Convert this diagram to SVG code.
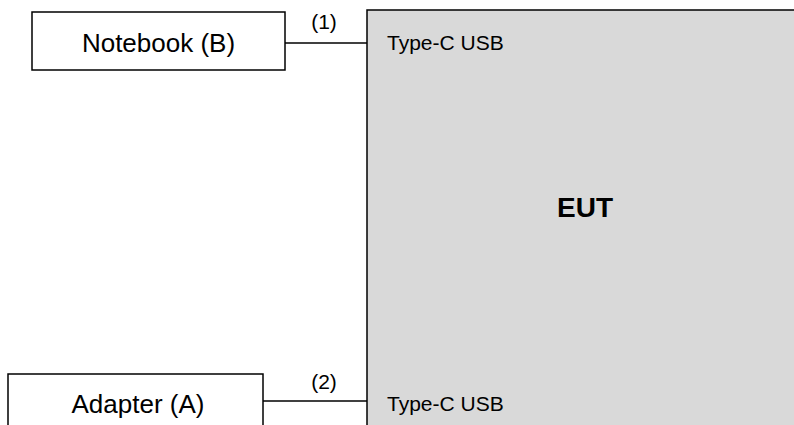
<svg xmlns="http://www.w3.org/2000/svg" width="794" height="425" viewBox="0 0 794 425">
  <style>
    .box { fill: #ffffff; stroke: #000000; stroke-width: 1.5; }
    .eut { fill: #d9d9d9; stroke: #000000; stroke-width: 1.5; }
    .wire { stroke: #000000; stroke-width: 1.5; fill: none; }
    .big { font-family: "Liberation Sans", Arial, sans-serif; font-size: 26px; fill: #000000; text-anchor: middle; }
    .small { font-family: "Liberation Sans", Arial, sans-serif; font-size: 21px; fill: #000000; }
    .title { font-family: "Liberation Sans", Arial, sans-serif; font-size: 28px; font-weight: bold; fill: #000000; text-anchor: middle; }
  </style>
  <rect width="794" height="425" fill="#ffffff"/>

  <g id="eut">
    <rect class="eut" x="367" y="10" width="440" height="430"/>
    <text class="title" x="585" y="217">EUT</text>
    <text class="small" x="387" y="50">Type-C USB</text>
    <text class="small" x="387" y="411">Type-C USB</text>
  </g>

  <g id="notebook">
    <rect class="box" x="32" y="12" width="253" height="58"/>
    <text class="big" x="158.5" y="52">Notebook (B)</text>
  </g>

  <g id="adapter">
    <rect class="box" x="8" y="374" width="255" height="70"/>
    <text class="big" x="138" y="413">Adapter (A)</text>
  </g>

  <g id="connectors">
    <line class="wire" x1="285" y1="43" x2="367" y2="43"/>
    <line class="wire" x1="263" y1="401" x2="367" y2="401"/>
    <text class="small" x="324" y="29" text-anchor="middle">(1)</text>
    <text class="small" x="324" y="389" text-anchor="middle">(2)</text>
  </g>
</svg>
